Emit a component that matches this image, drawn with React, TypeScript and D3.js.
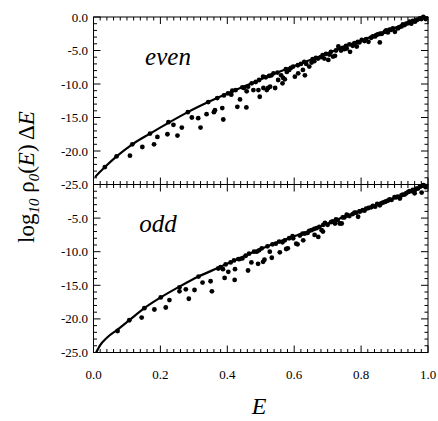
import React from "react";
import * as d3 from "d3";

// ---- data ----
const xTickValues = [0, 0.2, 0.4, 0.6, 0.8, 1.0];
const yTickValues = [0, -5, -10, -15, -20, -25];

const evenCurve: [number, number][] = [
  [0.005, -23.9], [0.01, -23.6], [0.034, -22.4], [0.069, -20.8], [0.116, -19.0],
  [0.169, -17.4], [0.224, -15.8], [0.282, -14.2], [0.343, -12.7], [0.405, -11.3],
  [0.473, -9.9], [0.538, -8.5], [0.6, -7.3], [0.67, -6.0], [0.73, -4.8],
  [0.8, -3.5], [0.87, -2.2], [0.93, -1.1], [1.0, 0],
];

const oddCurve: [number, number][] = [
  [0.008, -25], [0.02, -23.9], [0.04, -22.8], [0.072, -21.6], [0.107, -20.2],
  [0.152, -18.4], [0.201, -16.8], [0.257, -15.2], [0.314, -13.7], [0.373, -12.4],
  [0.44, -10.9], [0.5, -9.6], [0.55, -8.6], [0.6, -7.7], [0.65, -6.8],
  [0.7, -5.8], [0.75, -4.8], [0.8, -3.9], [0.85, -3.0], [0.9, -2.0],
  [0.95, -1.0], [1.0, 0],
];

const evenPoints: [number, number][] = [
  [0.034, -22.4], [0.069, -20.8], [0.109, -20.7], [0.116, -19.0], [0.146, -19.4],
  [0.169, -17.4], [0.181, -19.0], [0.191, -17.9], [0.221, -17.5], [0.224, -15.7],
  [0.239, -16.1], [0.251, -17.7], [0.264, -16.5], [0.282, -14.2], [0.294, -15.0],
  [0.313, -15.1], [0.32, -16.5], [0.338, -14.5], [0.343, -12.7], [0.36, -14.2],
  [0.363, -13.9], [0.37, -12.1], [0.385, -13.6], [0.388, -15.3], [0.39, -11.7],
  [0.402, -11.4], [0.412, -11.6], [0.415, -11.0], [0.425, -10.9], [0.43, -13.4],
  [0.438, -12.3], [0.445, -10.5], [0.45, -10.6], [0.457, -13.5], [0.458, -11.1],
  [0.462, -10.4], [0.473, -9.9], [0.478, -10.9], [0.485, -9.7], [0.493, -10.9],
  [0.495, -9.4], [0.497, -11.9], [0.507, -8.9], [0.508, -10.6], [0.515, -9.0],
  [0.518, -10.9], [0.522, -10.6], [0.525, -8.8], [0.528, -10.4], [0.532, -8.7],
  [0.538, -8.4], [0.543, -10.6], [0.55, -8.3], [0.552, -9.4], [0.561, -8.7],
  [0.565, -9.9], [0.567, -9.1], [0.572, -9.3], [0.575, -7.8], [0.578, -8.2],
  [0.585, -7.9], [0.59, -7.6], [0.597, -7.4], [0.602, -8.9], [0.611, -7.2],
  [0.612, -8.4], [0.62, -7.0], [0.626, -7.9], [0.63, -6.7], [0.632, -8.7],
  [0.636, -7.0], [0.645, -7.4], [0.652, -6.8], [0.655, -6.3], [0.66, -6.6],
  [0.665, -6.1], [0.671, -6.2], [0.68, -6.0], [0.685, -5.7], [0.69, -6.2],
  [0.695, -5.5], [0.702, -6.4], [0.705, -5.6], [0.71, -5.2], [0.716, -5.9],
  [0.722, -5.8], [0.725, -5.0], [0.732, -4.4], [0.74, -5.0], [0.745, -4.6],
  [0.75, -4.8], [0.755, -4.3], [0.757, -4.7], [0.765, -4.1], [0.767, -5.2],
  [0.775, -4.3], [0.78, -3.9], [0.787, -4.4], [0.79, -3.7], [0.795, -3.8],
  [0.802, -3.4], [0.81, -3.6], [0.815, -3.3], [0.822, -3.7], [0.83, -3.1],
  [0.835, -2.9], [0.842, -2.9], [0.845, -2.7], [0.85, -2.6], [0.856, -3.8],
  [0.857, -2.5], [0.862, -2.5], [0.871, -2.2], [0.875, -2.0], [0.88, -2.3],
  [0.885, -1.9], [0.89, -1.9], [0.895, -1.7], [0.901, -2.2], [0.91, -1.7],
  [0.915, -1.5], [0.921, -1.4], [0.925, -1.1], [0.93, -1.2], [0.935, -1.0],
  [0.941, -0.9], [0.945, -0.7], [0.95, -1.0], [0.955, -0.6], [0.961, -0.7],
  [0.965, -0.5], [0.968, -0.4], [0.976, -0.2], [0.98, -0.3], [0.986, 0],
  [0.993, -0.3],
];

const oddPoints: [number, number][] = [
  [0.072, -21.8], [0.107, -20.2], [0.144, -19.8], [0.152, -18.4], [0.182, -18.6],
  [0.201, -16.8], [0.216, -18.3], [0.227, -17.2], [0.257, -15.3], [0.257, -15.9],
  [0.276, -15.6], [0.285, -17.0], [0.302, -15.7], [0.314, -13.7], [0.326, -14.6],
  [0.35, -14.4], [0.354, -15.9], [0.373, -12.5], [0.38, -12.3], [0.387, -12.6],
  [0.392, -13.9], [0.395, -11.9], [0.403, -13.0], [0.41, -11.6], [0.42, -11.3],
  [0.422, -14.2], [0.423, -12.6], [0.433, -11.1], [0.437, -11.1], [0.445, -11.0],
  [0.455, -10.6], [0.462, -12.8], [0.465, -10.3], [0.472, -11.6], [0.48, -10.0],
  [0.488, -10.0], [0.492, -11.8], [0.495, -9.8], [0.503, -9.5], [0.507, -11.5],
  [0.511, -11.2], [0.52, -9.2], [0.527, -10.0], [0.533, -10.9], [0.535, -8.9],
  [0.545, -8.8], [0.555, -8.5], [0.557, -10.1], [0.565, -8.6], [0.572, -8.3],
  [0.576, -9.6], [0.581, -9.5], [0.585, -8.0], [0.595, -7.7], [0.597, -8.0],
  [0.606, -8.8], [0.61, -8.9], [0.617, -7.6], [0.625, -7.3], [0.627, -8.3],
  [0.632, -7.3], [0.64, -7.2], [0.645, -6.9], [0.652, -6.8], [0.66, -6.6],
  [0.661, -7.5], [0.667, -6.5], [0.672, -7.8], [0.675, -6.3], [0.682, -6.8],
  [0.686, -7.0], [0.687, -6.0], [0.692, -5.7], [0.7, -6.0], [0.71, -5.6],
  [0.715, -5.5], [0.722, -5.8], [0.725, -5.2], [0.73, -5.3], [0.736, -5.8],
  [0.742, -5.8], [0.745, -4.9], [0.75, -4.9], [0.757, -4.5], [0.76, -4.6],
  [0.765, -4.7], [0.775, -4.4], [0.78, -4.2], [0.785, -4.2], [0.791, -4.8],
  [0.795, -4.0], [0.797, -4.0], [0.805, -3.8], [0.81, -3.9], [0.815, -3.6],
  [0.822, -3.5], [0.83, -3.4], [0.835, -3.2], [0.842, -3.3], [0.848, -2.9],
  [0.856, -3.1], [0.86, -2.8], [0.865, -2.7], [0.871, -2.6], [0.875, -2.5],
  [0.88, -2.4], [0.885, -2.2], [0.891, -2.3], [0.9, -1.9], [0.905, -1.9],
  [0.91, -1.8], [0.916, -2.1], [0.921, -1.6], [0.925, -1.5], [0.93, -1.5],
  [0.935, -1.3], [0.941, -1.1], [0.945, -1.0], [0.95, -1.0], [0.955, -0.8],
  [0.96, -1.3], [0.961, -0.8], [0.965, -0.6], [0.97, -0.6], [0.976, -0.3],
  [0.981, -1.2], [0.986, -0.1], [0.99, -0.2], [0.993, -0.4],
];

const panelLabels = ["even", "odd"];

// ---- layout ----
const W = 438;
const H = 421;
const X0 = 93.5;
const X1 = 428;
const TOP0 = 17;
const MID = 184.5;
const BOT = 352.5;
const FONT = "Liberation Serif, Times New Roman, serif";

const x = d3.scaleLinear().domain([0, 1]).range([X0, X1]);
const yTop = d3.scaleLinear().domain([-25, 0]).range([MID, TOP0]);
const yBot = d3.scaleLinear().domain([-25, 0]).range([BOT, MID]);

const xMinor = d3.range(0, 51).map((i) => i * 0.02);
const yMinor = d3.range(-25, 1, 1);

function Panel({
  y,
  curve,
  points,
  label,
  labelX,
  labelY,
  showTopLabel,
}: {
  y: d3.ScaleLinear<number, number>;
  curve: [number, number][];
  points: [number, number][];
  label: string;
  labelX: number;
  labelY: number;
  showTopLabel: boolean;
}) {
  const line = d3
    .line<[number, number]>()
    .x((d) => x(d[0]))
    .y((d) => y(d[1]))
    .curve(d3.curveMonotoneX);
  const yT = y(0);
  const yB = y(-25);
  const isMajorX = (v: number) => Math.abs(v * 5 - Math.round(v * 5)) < 1e-6;
  return (
    <g>
      <rect x={X0} y={yT} width={X1 - X0} height={yB - yT} fill="none" stroke="#000" strokeWidth={1} />
      {xMinor.map((v, i) => {
        const len = isMajorX(v) ? 7 : 3.5;
        return (
          <g key={"xt" + i}>
            <line x1={x(v)} x2={x(v)} y1={yT} y2={yT + len} stroke="#000" strokeWidth={1} />
            <line x1={x(v)} x2={x(v)} y1={yB} y2={yB - len} stroke="#000" strokeWidth={1} />
          </g>
        );
      })}
      {yMinor.map((v, i) => {
        const len = v % 5 === 0 ? 7 : 3.5;
        return (
          <g key={"yt" + i}>
            <line x1={X0} x2={X0 + len} y1={y(v)} y2={y(v)} stroke="#000" strokeWidth={1} />
            <line x1={X1} x2={X1 - len} y1={y(v)} y2={y(v)} stroke="#000" strokeWidth={1} />
          </g>
        );
      })}
      {yTickValues
        .filter((v) => showTopLabel || v !== 0)
        .map((v) => (
          <text
            key={"yl" + v}
            x={X0 - 5.5}
            y={y(v)}
            dy="0.35em"
            textAnchor="end"
            fontFamily={FONT}
            fontSize={13}
          >
            {v.toFixed(1)}
          </text>
        ))}
      <path d={line(curve) || ""} fill="none" stroke="#000" strokeWidth={2.2} />
      {points.map((p, i) => (
        <circle key={"p" + i} cx={x(p[0])} cy={y(p[1])} r={2.4} fill="#000" />
      ))}
      <text x={labelX} y={labelY} textAnchor="middle" fontFamily={FONT} fontStyle="italic" fontSize={25}>
        {label}
      </text>
    </g>
  );
}

export default function App() {
  return (
    <svg
      width={W}
      height={H}
      viewBox={`0 0 ${W} ${H}`}
      style={{ position: "absolute", left: 0, top: 0, background: "#fff" }}
    >
      <rect x={0} y={0} width={W} height={H} fill="#fff" />
      <Panel y={yTop} curve={evenCurve} points={evenPoints} label={panelLabels[0]} labelX={168} labelY={65} showTopLabel={true} />
      <Panel y={yBot} curve={oddCurve} points={oddPoints} label={panelLabels[1]} labelX={158} labelY={232} showTopLabel={false} />
      {xTickValues.map((v) => (
        <text key={"xl" + v} x={x(v)} y={379} textAnchor="middle" fontFamily={FONT} fontSize={13}>
          {v.toFixed(1)}
        </text>
      ))}
      <text x={259} y={414} textAnchor="middle" fontFamily={FONT} fontStyle="italic" fontSize={24}>
        E
      </text>
      <text
        transform="translate(34,177) rotate(-90)"
        textAnchor="middle"
        fontFamily={FONT}
        fontSize={23}
      >
        log
        <tspan fontStyle="italic" fontSize={15} dy={5}>10</tspan>
        <tspan dy={-5}> ρ</tspan>
        <tspan fontStyle="italic" fontSize={15} dy={5}>0</tspan>
        <tspan dy={-5}>(</tspan>
        <tspan fontStyle="italic">E</tspan>
        <tspan>) Δ</tspan>
        <tspan fontStyle="italic">E</tspan>
      </text>
    </svg>
  );
}
